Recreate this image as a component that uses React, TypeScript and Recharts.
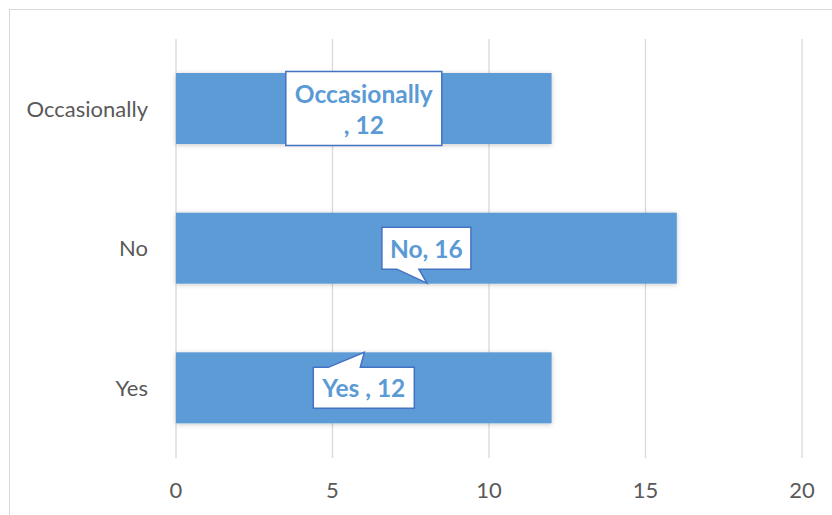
import React from "react";
import { BarChart, Bar, XAxis, YAxis, CartesianGrid } from "recharts";

// Survey answers, listed top to bottom as they appear on the chart
const categories = ["Occasionally", "No", "Yes "];
const responses = [12, 16, 12];
const xTicks = [0, 5, 10, 15, 20];

const data = categories.map((category, i) => ({ category, count: responses[i] }));

const BAR_COLOR = "#5b9bd5";
const CALLOUT_BORDER = "#4472c4";
const FONT = "Lato, 'Open Sans', sans-serif";

// Callout box styling per bar: box size, whether the text wraps, and the pointer tail
type Tail = { edge: "top" | "bottom"; b1: number; b2: number; tipX: number; tipDy: number };
type CalloutStyle = { w: number; h: number; wrap: boolean; tail?: Tail };
const calloutStyles: CalloutStyle[] = [
  { w: 156, h: 74, wrap: true },
  { w: 89, h: 42, wrap: false, tail: { edge: "bottom", b1: 15, b2: 37, tipX: 45, tipDy: 14 } },
  { w: 101, h: 41, wrap: false, tail: { edge: "top", b1: 15, b2: 47, tipX: 51, tipDy: -15 } },
];

function calloutPath(l: number, t: number, w: number, h: number, tail?: Tail) {
  const r = l + w;
  const b = t + h;
  if (!tail) return `M${l},${t}H${r}V${b}H${l}Z`;
  if (tail.edge === "bottom") {
    return `M${l},${t}H${r}V${b}H${l + tail.b2}L${l + tail.tipX},${b + tail.tipDy}L${l + tail.b1},${b}H${l}Z`;
  }
  return `M${l},${t}H${l + tail.b1}L${l + tail.tipX},${t + tail.tipDy}L${l + tail.b2},${t}H${r}V${b}H${l}Z`;
}

const renderCallout = (props: any) => {
  const { x, y, width, height, index, value } = props;
  const s = calloutStyles[index];
  const cx = x + width / 2;
  const cy = y + height / 2;
  const left = cx - s.w / 2;
  const top = cy - s.h / 2;
  const name = categories[index];
  const lines = s.wrap ? [name, `, ${value}`] : [`${name}, ${value}`];
  const lineH = 31;
  const startY = cy - ((lines.length - 1) * lineH) / 2;
  return (
    <g key={`callout-${index}`}>
      <path
        d={calloutPath(left, top, s.w, s.h, s.tail)}
        fill="#ffffff"
        stroke={CALLOUT_BORDER}
        strokeWidth={1.5}
      />
      {lines.map((ln, i) => (
        <text
          key={i}
          x={cx}
          y={startY + i * lineH}
          textAnchor="middle"
          dominantBaseline="central"
          fill={BAR_COLOR}
          fontFamily={FONT}
          fontWeight={700}
          fontSize={24.5}
          style={{ whiteSpace: "pre" }}
        >
          {ln}
        </text>
      ))}
    </g>
  );
};

const ShadowBar = (props: any) => {
  const { x, y, width, height } = props;
  return <rect x={x} y={y} width={width} height={height} fill={BAR_COLOR} filter="url(#barShadow)" />;
};

export default function App() {
  return (
    <div
      style={{
        position: "absolute",
        left: 0,
        top: 0,
        width: 832,
        height: 515,
        overflow: "hidden",
        background: "#ffffff",
      }}
    >
      <div
        style={{
          position: "absolute",
          left: 9,
          top: 9,
          width: 900,
          height: 600,
          border: "1.5px solid #d9d9d9",
        }}
      />
      <BarChart
        width={832}
        height={515}
        data={data}
        layout="vertical"
        margin={{ top: 39, right: 30, bottom: 0, left: 0 }}
        style={{ position: "absolute", left: 0, top: 0 }}
      >
        <defs>
          <filter id="barShadow" x="-10%" y="-30%" width="120%" height="160%">
            <feDropShadow dx={0} dy={1} stdDeviation={2.5} floodColor="#000000" floodOpacity={0.22} />
          </filter>
        </defs>
        <CartesianGrid horizontal={false} stroke="#d9d9d9" strokeWidth={1.3} />
        <XAxis
          type="number"
          domain={[0, 20]}
          ticks={xTicks}
          axisLine={false}
          tickLine={false}
          tickSize={0}
          tickMargin={24}
          height={57}
          tick={{ fill: "#595959", fontSize: 22, fontFamily: FONT }}
        />
        <YAxis
          type="category"
          dataKey="category"
          width={176}
          axisLine={false}
          tickLine={false}
          tickSize={0}
          tickMargin={28}
          tick={{ fill: "#595959", fontSize: 22, fontFamily: FONT }}
        />
        <Bar
          dataKey="count"
          barSize={71}
          isAnimationActive={false}
          shape={<ShadowBar />}
          label={renderCallout}
        />
      </BarChart>
    </div>
  );
}
